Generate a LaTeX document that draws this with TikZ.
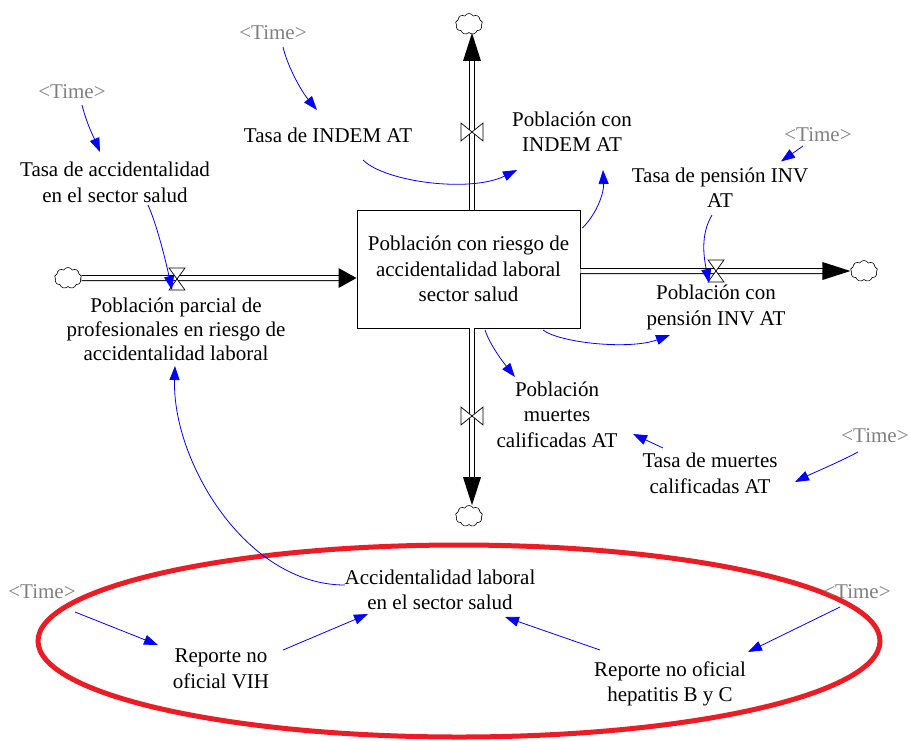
\documentclass[tikz,border=0pt]{standalone}
\usepackage{fontspec}
\setmainfont{Liberation Serif}
\usetikzlibrary{arrows.meta,calc,shapes.symbols}
\definecolor{ringred}{RGB}{237,28,36}
\definecolor{timegray}{RGB}{128,128,128}
\begin{document}
\begin{tikzpicture}[x=1pt,y=-1pt,
 lbl/.style={font=\fontsize{21}{25.5}\selectfont, align=center, inner sep=2pt},
 tlbl/.style={lbl, text=timegray},
 stockbox/.style={draw, line width=0.9pt, fill=white, minimum width=223pt, minimum height=118pt, lbl},
 pipe/.style={draw=black, line width=1pt, double=white, double distance=4pt},
 cloudnode/.style={cloud, cloud puffs=9, cloud puff arc=120, aspect=1.3, draw, line width=0.6pt, fill=white, minimum width=27pt, minimum height=21pt, inner sep=0pt},
 link/.style={draw=blue, line width=0.8pt, -{Triangle[length=14pt,width=10pt]}},
 valvestyle/.style={draw, fill=white, line width=0.7pt},
 valveh/.pic={\path[valvestyle] (-8,-11) -- (8,-11) -- (-8,11) -- (8,11) -- cycle;},
 valvev/.pic={\path[valvestyle] (-11,-9) -- (-11,9) -- (11,-9) -- (11,9) -- cycle;}
]
\useasboundingbox (0,0) rectangle (910,740);

% red ring
\draw[ringred, line width=5pt] (459,641) ellipse [x radius=421pt, y radius=96pt];

% stock
\node[stockbox] (stock) at (468.5,269) {Población con riesgo de\\accidentalidad laboral\\sector salud};

% clouds
\node[cloudnode] (cloudL) at (68,278) {};
\node[cloudnode] (cloudR) at (864,271) {};
\node[cloudnode] (cloudT) at (469,24) {};
\node[cloudnode] (cloudB) at (469,516) {};

% valve positions
\coordinate (valL) at (177,279);
\coordinate (valR) at (716,271);
\coordinate (valT) at (472,132);
\coordinate (valB) at (472,416);

% pipes
\coordinate (tipL) at (stock.west |- cloudL);
\draw[pipe] (cloudL.east) -- ($(tipL)+(-16,0)$);
\fill (tipL) -- ($(tipL)+(-18,-10)$) -- ($(tipL)+(-18,10)$) -- cycle;

\coordinate (tipR) at (cloudR.west);
\draw[pipe] (stock.east |- cloudR) -- ($(tipR)+(-26,0)$);
\fill (tipR) -- ($(tipR)+(-28,-9)$) -- ($(tipR)+(-28,9)$) -- cycle;

\coordinate (tipT) at (valT |- cloudT.south);
\draw[pipe] (stock.north -| valT) -- ($(tipT)+(0,26)$);
\fill (tipT) -- ($(tipT)+(-9,28)$) -- ($(tipT)+(9,28)$) -- cycle;

\coordinate (tipB) at (valB |- cloudB.north);
\draw[pipe] (stock.south -| valB) -- ($(tipB)+(0,-26)$);
\fill (tipB) -- ($(tipB)+(-9,-28)$) -- ($(tipB)+(9,-28)$) -- cycle;

% valves
\pic at (valL) {valveh};
\pic at (valR) {valveh};
\pic at (valT) {valvev};
\pic at (valB) {valvev};

% labels
\node[lbl] (tasaIndem) at (328,135.5) {Tasa de INDEM AT};
\node[lbl] (pobIndem) at (572,131.5) {Población con\\INDEM AT};
\node[tlbl] (t1) at (273,33) {<Time>};
\node[tlbl] (t2) at (72,92) {<Time>};
\node[lbl] (tasaAcc) at (115,182.5) {Tasa de accidentalidad\\en el sector salud};
\node[tlbl] (t3) at (818,135) {<Time>};
\node[lbl] (tasaPen) at (720,187.5) {Tasa de pensión INV\\AT};
\node[lbl, font=\fontsize{21}{24}\selectfont] (pobParc) at (176,329) {Población parcial de\\profesionales en riesgo de\\accidentalidad laboral};
\node[lbl] (pobPen) at (716,307.5) {Población con\\pensión INV AT};
\node[lbl] (pobMue) at (557,414.5) {Población\\muertes\\calificadas AT};
\node[lbl] (tasaMue) at (710,473.5) {Tasa de muertes\\calificadas AT};
\node[tlbl] (t4) at (875,436) {<Time>};
\node[lbl] (accid) at (440,590) {Accidentalidad laboral\\en el sector salud};
\node[tlbl] (t5) at (42,592) {<Time>};
\node[lbl] (repVIH) at (221,669) {Reporte no\\oficial VIH};
\node[tlbl] (t6) at (857,592) {<Time>};
\node[lbl] (repHep) at (670,684) {Reporte no oficial\\hepatitis B y C};

% links
\draw[link] ($(t1)+(10,14)$) .. controls (288,68) and (302,92) .. ($(tasaIndem)+(-11,-25.5)$);
\draw[link] ($(tasaIndem)+(35,24.5)$) .. controls (385,182) and (470,193) .. ($(pobIndem)+(-55,38.5)$);
\draw[link] ($(stock)+(114,-41)$) .. controls (598,212) and (604,192) .. ($(pobIndem)+(31,38.5)$);
\draw[link] ($(t3)+(-15,11)$) -- ($(tasaPen)+(61,-26)$);
\draw[link] ($(tasaPen)+(-8,27.5)$) .. controls (700,235) and (704,258) .. ($(valR)+(-7,12)$);
\draw[link] ($(stock)+(74.5,61)$) .. controls (560,343) and (630,350) .. ($(pobPen)+(-46,27.5)$);
\draw[link] ($(stock)+(16.5,61)$) .. controls (490,345) and (503,362) .. ($(pobMue)+(-42,-37.5)$);
\draw[link] ($(tasaMue)+(-47,-25.5)$) -- ($(pobMue)+(76,19.5)$);
\draw[link] ($(t4)+(-17,16)$) .. controls (835,464) and (815,472) .. ($(tasaMue)+(85,8.5)$);
\draw[link] ($(t2)+(10,13)$) .. controls (87,125) and (95,140) .. ($(tasaAcc)+(-15,-30.5)$);
\draw[link] ($(tasaAcc)+(33,22.5)$) .. controls (157,225) and (166,262) .. ($(valL)+(-5,11)$);
\draw[link] ($(accid)+(-95,-5)$) .. controls (245,585) and (172,460) .. ($(pobParc)+(-1,37)$);
\draw[link] ($(t5)+(33,20)$) -- ($(repVIH)+(-63,-24)$);
\draw[link] ($(repVIH)+(62,-19)$) -- ($(accid)+(-72,24)$);
\draw[link] ($(repHep)+(-70,-34)$) -- ($(accid)+(65,27)$);
\draw[link] ($(t6)+(-17,15)$) -- ($(repHep)+(78,-32)$);
\end{tikzpicture}
\end{document}
